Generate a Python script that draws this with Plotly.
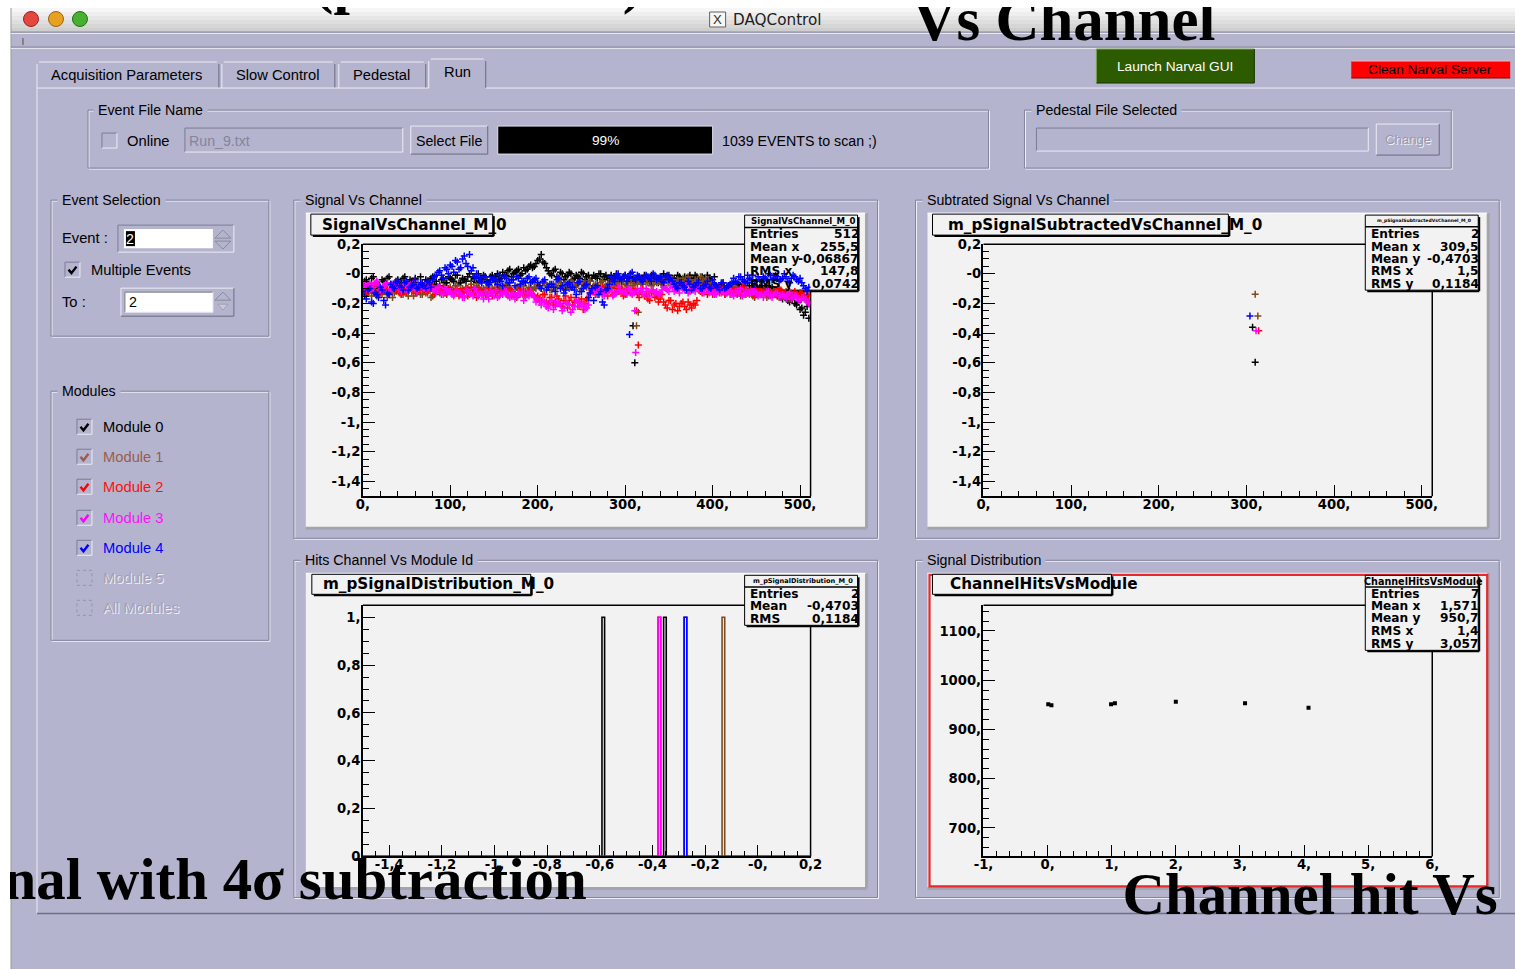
import plotly.graph_objects as go

W, H = 1515, 969
# the photographed page is drawn slightly shrunk and shifted; compensate so marks land where the reference has them
SX, SY, OX, OY = 0.986, 0.984, 9.0, 7.0
FS = 1 / 0.985
LAV = '#b4b4cf'
CANVAS = '#f2f2f2'
GUI = 'Liberation Sans'
BOLD = 'DejaVu Sans'
SERIF = 'Liberation Serif'

# ---------------- data ----------------
channels_even = list(range(0, 512, 4))
channels_odd = list(range(2, 512, 4))
# signal (in 1/100) per module, channels 0,4,8,...
signal_m0 = [-9,-4,-8,-2,-6,-10,-5,-3,-7,-9,-4,-6,-2,-8,-5,-3,-9,-6,-4,-7,-2,-5,-8,-3,-6,
             -3,-5,-1,-6,-4,-2,-5,-3,0,-4,-2,-6,-1,
             -2,-4,1,-1,3,0,2,-1,4,3,6,5,9,13,7,
             2,-1,3,-3,0,-2,1,-4,-1,-3,0,-2,-5,-1,-3,0,-2,-4,-1,-3,-2,-5,-1,
             -3,-4,-5,-2,-4,
             -2,-5,-1,-4,-3,0,-2,-5,-3,-1,-4,-2,-6,-3,-1,-4,-2,-5,-3,-6,
             -8,-10,-6,-11,-9,-7,-12,-8,-10,-6,-11,-9,-13,-8,-10,-12,-9,
             -14,-12,-17,-15,-19,-16,-21,-24,-28,-22]
signal_m1 = [-11,-14,-10,-13,-15,-9,-12,-16,-11,-13,-10,-14,-12,-15,-9,-13,-11,-14,-12,-10,-15,-12,-13,-11,-14,
             -9,-12,-8,-11,-13,-10,-7,-12,-9,-11,-14,-8,-10,-12,-9,-11,-7,-10,-13,-9,-11,-8,-12,-10,-9,
             -7,-10,-6,-9,-11,-8,-5,-9,-7,-10,-6,-8,-12,-7,-9,-5,-8,-10,-6,-9,-7,-4,-8,-6,-10,-7,
             -5,-8,-6,-4,-7,-5,-3,-7,-6,-4,-8,-5,-3,-6,-4,-7,-5,-2,-6,-4,-7,-5,-3,-6,-8,
             -10,-13,-11,-9,-14,-12,-10,-15,-11,-13,-12,-16,-10,-14,-12,-15,-13,-11,-16,-14,-12,-17,-14,-15,-13,-16,-18]
signal_m2 = [-8,-12,-9,-11,-7,-13,-10,-8,-12,-9,-11,-14,-8,-10,-12,-7,-11,-9,-13,-10,-8,-12,-11,-9,-13,
             -11,-14,-10,-13,-12,-15,-9,-13,-11,-14,-12,-10,-15,-13,-11,-12,-14,-10,-13,-16,-11,-12,-14,-13,-15,
             -15,-18,-14,-20,-16,-19,-17,-22,-15,-18,-21,-16,-19,-24,-17,
             -13,-10,-14,-12,-11,-15,-9,-13,-12,-10,-14,-11,-13,-12,-16,-10,-14,-18,-12,-15,-17,
             -19,-23,-18,-21,-25,-20,-22,-19,-23,-21,
             -11,-13,-9,-12,-14,-10,-12,-8,-13,-11,-10,-14,-12,-9,-13,-11,-15,-10,-12,-13,-11,-14,-12,-10,-15,-13,-12,-16,-14,-13,-15,-14]
signal_m3 = [-6,-10,-7,-9,-5,-11,-8,-6,-10,-7,-9,-12,-6,-8,-10,-5,-9,-7,-11,-8,-10,-12,-9,-14,-11,
             -12,-15,-11,-14,-16,-12,-13,-10,-15,-14,-12,-17,-13,-11,-15,-14,-12,-16,-13,-15,-14,-18,-13,-12,-16,
             -17,-21,-19,-23,-18,-22,-20,-25,-19,-21,-24,-18,-22,-20,-23,
             -14,-11,-13,-10,-15,-12,-11,-14,-9,-13,-12,-10,-14,-11,-13,-12,-10,-15,-11,-12,-13,
             -9,-11,-8,-12,-10,-9,-11,-13,-10,-12,
             -10,-12,-9,-13,-11,-14,-10,-12,-13,-11,-15,-12,-10,-14,-13,-11,-12,-15,-13,-14,-12,-16,-13,-15,-14,-17,-13,-16,-15,-18,-16,-19]
signal_m4 = [-12,-17,-10,-20,-14,-9,-18,-13,
             -7,-10,-5,-9,-6,-11,-8,-4,-9,-7,-10,-6,
             -4,-1,2,-3,3,6,1,8,4,12,5,2,-2,
             -3,-6,-2,-7,-4,-5,-1,-8,-3,-6,-4,-2,-7,-5,-3,-6,-4,
             -6,-10,-4,-9,-7,-12,-3,-8,-11,-6,-9,-14,-5,-10,-7,-13,-18,-8,-12,-21,-10,
             -2,-5,0,-4,-1,-3,1,-4,-2,-5,-1,-3,0,-4,-2,-6,-1,-3,
             -7,-10,-6,-9,-5,-11,-8,-6,-10,-7,-9,-4,-8,-11,-6,-9,-7,
             -3,-6,-2,-5,-1,-4,-7,-2,-5,-3,0,-4,-1,-5,-3,-2,-6,-1,-4,-3,-8,-12]
# signal (in 1/100) per module, channels 2,6,10,...
signal_m0_odd = [-5,-8,-3,-7,-10,-4,-6,-2,-8,-5,-9,-3,-7,-4,-6,-10,-2,-8,-5,-3,-7,-9,-4,-6,-2,
                 -4,-1,-6,-3,-5,0,-2,-6,-3,-1,-5,-2,-4,
                 0,-3,-1,2,-2,1,3,0,2,5,4,7,10,8,4,
                 0,2,-2,1,-4,-1,0,-3,-2,1,-4,-1,-3,-2,0,-4,-1,-3,-5,0,-4,-2,-3,
                 -2,-5,-3,-6,-1,
                 -4,-1,-3,-6,-2,-4,-1,-3,-6,-2,-5,-3,-1,-4,-2,-5,-3,-1,-4,-2,
                 -9,-7,-11,-8,-10,-12,-7,-9,-11,-8,-10,-13,-9,-11,-8,-10,-12,
                 -13,-16,-14,-18,-17,-20,-19,-23,-26,-30]
signal_m1_odd = [-13,-10,-15,-12,-11,-14,-10,-13,-16,-12,-11,-14,-13,-10,-15,-12,-14,-11,-13,-16,-12,-10,-14,-13,-11,
                 -11,-8,-12,-10,-9,-13,-11,-8,-12,-10,-9,-13,-11,-8,-10,-12,-9,-11,-14,-10,-8,-12,-9,-11,-10,
                 -9,-6,-8,-11,-7,-9,-6,-10,-8,-5,-9,-7,-10,-6,-8,-11,-7,-9,-5,-8,-10,-6,-7,-9,-5,-8,
                 -6,-4,-7,-5,-3,-6,-8,-4,-5,-7,-3,-6,-4,-8,-5,-3,-6,-4,-7,-5,-2,-6,-4,-7,-9,
                 -12,-10,-14,-11,-13,-9,-12,-14,-10,-13,-15,-11,-12,-14,-16,-12,-11,-15,-13,-14,-17,-13,-15,-16,-14,-17,-19]
signal_m2_odd = [-10,-13,-8,-11,-9,-12,-10,-14,-9,-11,-13,-8,-12,-10,-9,-13,-11,-8,-12,-10,-14,-9,-11,-13,-10,
                 -13,-11,-15,-12,-10,-14,-12,-16,-11,-13,-14,-12,-11,-15,-13,-10,-12,-15,-14,-11,-13,-15,-12,-14,-16,
                 -17,-14,-19,-16,-21,-15,-20,-18,-23,-16,-19,-22,-17,-20,-18,
                 -11,-14,-12,-9,-13,-11,-14,-10,-12,-15,-11,-13,-10,-14,-12,-15,-17,-13,-16,-19,-14,
                 -21,-18,-24,-20,-22,-19,-24,-21,-20,-18,
                 -12,-10,-14,-11,-13,-9,-12,-14,-10,-12,-13,-11,-9,-14,-12,-10,-13,-12,-11,-14,-13,-12,-15,-11,-13,-14,-16,-12,-15,-13,-16,-15]
signal_m3_odd = [-9,-7,-11,-6,-8,-10,-7,-12,-8,-6,-10,-8,-11,-7,-9,-12,-8,-10,-6,-9,-11,-9,-13,-10,-12,
                 -14,-12,-13,-16,-11,-14,-15,-12,-13,-17,-14,-12,-15,-16,-13,-12,-15,-14,-17,-13,-12,-16,-15,-14,-19,
                 -19,-18,-22,-20,-24,-19,-21,-23,-20,-26,-22,-19,-21,-24,-21,
                 -12,-13,-10,-14,-12,-11,-15,-13,-11,-12,-14,-11,-13,-12,-10,-14,-12,-11,-13,-14,-11,
                 -10,-12,-9,-11,-13,-10,-8,-12,-11,-9,
                 -11,-13,-10,-12,-14,-11,-13,-12,-10,-14,-12,-13,-15,-11,-14,-12,-13,-14,-16,-12,-15,-14,-13,-16,-15,-14,-17,-15,-18,-16,-17,-20]
signal_m4_odd = [-15,-11,-19,-13,-16,-11,-21,-14,
                 -9,-6,-8,-11,-5,-9,-7,-10,-6,-8,-5,-9,
                 -2,1,-1,4,0,5,9,3,10,7,13,4,0,
                 -5,-2,-6,-4,-3,-7,-5,-2,-6,-4,-8,-3,-5,-6,-2,-5,-3,
                 -8,-5,-11,-7,-9,-4,-10,-13,-7,-9,-11,-6,-12,-8,-16,-10,-9,-14,-19,-11,-7,
                 -4,-1,-3,-2,-5,0,-3,-1,-4,-3,-2,-5,-1,-3,-5,-2,-4,-5,
                 -9,-6,-8,-11,-7,-9,-6,-10,-8,-5,-10,-7,-9,-6,-10,-8,-6,
                 -5,-2,-4,-6,-3,-1,-5,-4,-2,-4,-1,-3,-2,-4,0,-5,-3,-2,-5,-6,-10,-9]
# hit channels around 310 (1/100)
dip_ch_m0, dip_m0 = [309, 311], [-35, -60]
dip_ch_m1, dip_m1 = [313, 315], [-35, -26]
dip_ch_m2, dip_m2 = [313, 315], [-25, -48]
dip_ch_m3, dip_m3 = [311, 312], [-25, -53]
dip_ch_m4, dip_m4 = [305], [-41]

# subtracted signal
sub_ch_m0, sub_m0 = [307, 310], [-0.361, -0.596]
sub_ch_m1, sub_m1 = [310, 313], [-0.138, -0.285]
sub_ch_m2, sub_m2 = [314], [-0.384]
sub_ch_m3, sub_m3 = [311], [-0.384]
sub_ch_m4, sub_m4 = [304], [-0.285]

# signal distribution (bin centres with one entry each)
hist_m0 = [-0.587, -0.353]
hist_m1 = [-0.275, -0.131]
hist_m2 = [-0.374]
hist_m3 = [-0.374]
hist_m4 = [-0.275]
hist_bin = 0.01

# channel hits vs module
module_ids = [0.01, 0.06, 0.99, 1.05, 2.0, 3.08, 4.07]
channel_hits = [951, 949, 951, 953, 956, 953, 944]

module_names = ['Module 0', 'Module 1', 'Module 2', 'Module 3', 'Module 4']
module_colors = ['#000000', '#7a4a1c', '#ff0000', '#ff00ff', '#0000ff']
module_label_colors = ['#000000', '#9c5c4c', '#ff1010', '#ff10ff', '#0000ff']

# ---------------- helpers ----------------
shapes, annots = [], []


def X(x):
    return ((x - OX) / SX) / W


def Y(y):
    return 1 - ((y - OY) / SY) / H


def rect(x0, y0, x1, y1, fill=None, line=None, lw=1, dash=None, layer='below'):
    ln = dict(color=line if line else 'rgba(0,0,0,0)', width=lw if line else 0)
    if dash:
        ln['dash'] = dash
    shapes.append(dict(type='rect', xref='paper', yref='paper', x0=X(x0), x1=X(x1), y0=Y(y1), y1=Y(y0),
                       fillcolor=fill if fill else 'rgba(0,0,0,0)', line=ln, layer=layer))


def seg(x0, y0, x1, y1, color, lw=1, layer='below'):
    shapes.append(dict(type='line', xref='paper', yref='paper', x0=X(x0), x1=X(x1), y0=Y(y0), y1=Y(y1),
                       line=dict(color=color, width=lw), layer=layer))


def circle(cx, cy, r, fill, line):
    shapes.append(dict(type='circle', xref='paper', yref='paper', x0=X(cx - r), x1=X(cx + r), y0=Y(cy + r),
                       y1=Y(cy - r), fillcolor=fill, line=dict(color=line, width=1), layer='below'))


def path(pts, color, lw=1, fill=None, closed=False):
    d = 'M ' + ' L '.join(f'{X(a):.5f},{Y(b):.5f}' for a, b in pts)
    if closed:
        d += ' Z'
    shapes.append(dict(type='path', xref='paper', yref='paper', path=d, line=dict(color=color, width=lw),
                       fillcolor=fill if fill else 'rgba(0,0,0,0)', layer='below'))


def txt(x, y, s, size=14.5, color='black', family=GUI, xa='left', ya='middle', bold=False, bg=None):
    if xa == 'left':
        x -= 1.5
    a = dict(xref='paper', yref='paper', x=X(x), y=Y(y), text=s, showarrow=False, xanchor=xa, yanchor=ya,
             font=dict(family=family, size=size * FS, color=color, weight='bold' if bold else 'normal'),
             borderpad=0)
    if bg:
        a['bgcolor'] = bg
    annots.append(a)


DARK = '#7c7c92'
LIGHT = '#ececf5'


def sunken(x0, y0, x1, y1, fill=LAV):
    rect(x0, y0, x1, y1, fill=fill)
    seg(x0, y0, x1, y0, DARK)
    seg(x0, y0, x0, y1, DARK)
    seg(x0, y1, x1, y1, LIGHT)
    seg(x1, y0, x1, y1, LIGHT)


def raised(x0, y0, x1, y1, fill=LAV):
    rect(x0, y0, x1, y1, fill=fill)
    seg(x0, y0, x1, y0, LIGHT)
    seg(x0, y0, x0, y1, LIGHT)
    seg(x0, y1, x1, y1, '#6a6a80')
    seg(x1, y0, x1, y1, '#6a6a80')


def group(x0, y0, x1, y1, label, lx):
    rect(x0 + 1, y0 + 1, x1 + 1, y1 + 1, line='#f0f0f8')
    rect(x0, y0, x1, y1, line='#84849a')
    txt(lx - 4, y0, ' ' + label + ' ', size=14, bg=LAV)


def checkbox(x, yc, checked, color='black', disabled=False):
    if disabled:
        rect(x, yc - 8, x + 15, yc + 7, line='#9494a6', dash='dot')
        return
    sunken(x, yc - 8, x + 15, yc + 7)
    if checked:
        path([(x + 3.5, yc - 0.5), (x + 6.5, yc + 3), (x + 11.5, yc - 3.5)], color, lw=2.4)


# ---------------- window chrome ----------------
rect(10, 8, 1530, 980, fill=LAV)
bands = ['#f6f6f6', '#eeeeee', '#e6e6e6', '#dedede', '#d6d6d6', '#cecece']
for i, c in enumerate(bands):
    rect(10, 8 + 4 * i, 1530, 12 + 4 * i, fill=c)
seg(10, 8, 10, 980, '#9a9a9a')
seg(10, 32, 1530, 32, '#8c8c8c')
seg(10, 33.5, 1530, 33.5, '#e8e8f0')
seg(22, 38, 22, 45, '#505050')
seg(10, 47, 1530, 47, '#8a8aa0')
seg(10, 48.5, 1530, 48.5, '#e4e4ee')
circle(30, 19, 7.5, '#e4473f', '#a02020')
circle(55, 19, 7.5, '#e8a020', '#a06010')
circle(79, 19, 7.5, '#48b030', '#207010')
rect(709, 12, 725, 27, fill='#f6f6f6', line='#606060')
txt(717, 19.5, 'X', size=13, color='#303030', xa='center')
txt(733, 19.5, 'DAQControl', size=15, color='#202020', family=BOLD)

# tabs
tabs = [(36, 62, 218, 'Acquisition Parameters', 51), (221, 62, 334, 'Slow Control', 236),
        (338, 62, 425, 'Pedestal', 353), (428, 59, 485, 'Run', 444)]
for x0, y0, x1, lab, tx in tabs:
    seg(x0, 88, x0, y0 + 2, LIGHT)
    seg(x0 + 2, y0, x1 - 2, y0, LIGHT)
    seg(x1, y0 + 2, x1, 88, '#6a6a80')
    txt(tx, (y0 + 88) / 2 + (0 if lab != 'Run' else -2), lab, size=14.5)
seg(36, 88, 428, 88, LIGHT)
seg(485, 88, 1530, 88, LIGHT)
seg(36, 88, 36, 913, LIGHT)
seg(36, 913, 1530, 913, '#6e6e86', lw=1.5)

# buttons top right
rect(1096, 49, 1254, 83, fill='#2d5b00')
seg(1096, 49, 1254, 49, '#7aa050')
seg(1096, 49, 1096, 83, '#7aa050')
seg(1096, 83, 1254, 83, '#183000')
seg(1254, 49, 1254, 83, '#183000')
txt(1175, 66.5, 'Launch Narval GUI', size=13.5, color='white', xa='center')
rect(1351, 61, 1510, 78, fill='#ff0000')
seg(1351, 61, 1510, 61, '#ffb0b0')
seg(1351, 78, 1510, 78, '#900000')
txt(1430, 69.5, 'Clean Narval Server', size=13.5, color='black', xa='center')

# Event file name group
group(87, 110, 988, 168, 'Event File Name', 98)
checkbox(101, 141, False)
txt(127, 140.5, 'Online', size=14.5)
sunken(184, 128, 402, 152)
txt(189, 140.5, 'Run_9.txt', size=14, color='#85859a')
raised(410, 126, 487, 154)
txt(448.5, 140.5, 'Select File', size=14, xa='center')
rect(497, 126, 712, 154, fill='#000000', line='#e0e0ea')
txt(605, 140.5, '99%', size=13.5, color='white', xa='center')
txt(722, 140.5, '1039 EVENTS to scan ;)', size=14)

# Pedestal group
group(1024, 110, 1451, 168, 'Pedestal File Selected', 1036)
sunken(1036, 128, 1368, 151)
raised(1376, 124, 1439, 155)
txt(1408.5, 140.5, 'Change', size=13, color='#f0f0f6', xa='center')
txt(1407.5, 139.5, 'Change', size=13, color='#9a9aac', xa='center')

# Event selection group
group(50, 200, 268, 336, 'Event Selection', 62)
txt(62, 238, 'Event :', size=14.5)
sunken(117, 225, 233, 252)
rect(123, 229, 212, 248, fill='white')
rect(125, 231, 134, 246, fill='black')
txt(129.5, 238.5, '2', size=14, color='white', xa='center')
path([(214, 238), (222, 230), (230, 238)], '#8a8a9a', 1, fill=LAV, closed=True)
path([(214, 241), (222, 249), (230, 241)], '#8a8a9a', 1, fill=LAV, closed=True)
checkbox(64, 270, True)
txt(91, 269.5, 'Multiple Events', size=14.5)
txt(62, 302, 'To :', size=14.5)
raised(120, 288, 233, 316)
sunken(124, 292, 212, 312, fill='white')
txt(129, 302, '2', size=14)
path([(214, 300), (222, 292), (230, 300)], '#8a8a9a', 1, fill=LAV, closed=True)
path([(217, 304), (222, 310), (227, 304)], '#a0a0b0', 1, fill='#c8c8d8', closed=True)

# Modules group
group(50, 391, 268, 640, 'Modules', 62)
rows_y = [427, 457, 487, 518, 548, 578, 608]
for i in range(5):
    checkbox(76, rows_y[i], True, module_colors[i] if i != 1 else module_label_colors[1])
    txt(103, rows_y[i], module_names[i], size=14.5, color=module_label_colors[i])
for j, lab in enumerate(['Module 5', 'All Modules']):
    yy = rows_y[5 + j]
    checkbox(76, yy, False, disabled=True)
    txt(104, yy + 1, lab, size=14.5, color='#f2f2f8')
    txt(103, yy, lab, size=14.5, color='#a2a2b4')

# plot groups + canvases
groups = [(293, 200, 877, 538, 'Signal Vs Channel', 305), (915, 200, 1499, 538, 'Subtrated Signal Vs Channel', 927),
          (293, 560, 877, 897, 'Hits Channel Vs Module Id', 305), (915, 560, 1499, 897, 'Signal Distribution', 927)]
pads = [(305, 213, 865, 527), (927, 213, 1487, 527), (305, 573, 865, 887), (927, 573, 1487, 887)]
frames = [(362, 244, 810, 496), (983, 244, 1432, 496), (362, 605, 810, 856), (983, 605, 1432, 856)]
for (gx0, gy0, gx1, gy1, lab, lx), (px0, py0, px1, py1) in zip(groups, pads):
    group(gx0, gy0, gx1, gy1, lab, lx)
    rect(px0, py0, px1, py1, fill=CANVAS)
    seg(px0, py1 + 1, px1 + 1, py1 + 1, '#a4a4ae', lw=3)
    seg(px1 + 1, py0, px1 + 1, py1 + 1, '#a4a4ae', lw=3)
    seg(px0, py0, px1, py0, '#ffffff')
rect(929, 574.5, 1487, 886, line='#e8282c', lw=2.2)

# top/right frame lines (drawn under stats boxes)
for fx0, fy0, fx1, fy1 in frames:
    seg(fx0, fy0, fx1, fy0, 'black', lw=1.5)
    seg(fx1, fy0, fx1, fy1, 'black', lw=1.5)

# title boxes
titles = [(310, 214, 492, 235, 'SignalVsChannel_M_0', 322), (932, 214, 1228, 235, 'm_pSignalSubtractedVsChannel_M_0', 948),
          (311, 574, 530, 594, 'm_pSignalDistribution_M_0', 323), (932, 574, 1111, 594, 'ChannelHitsVsModule', 950)]
for x0, y0, x1, y1, t, tx in titles:
    rect(x0, y0, x1, y1, fill=CANVAS, line='black', lw=1)
    seg(x0 + 2, y1 + 1, x1 + 1, y1 + 1, 'black', lw=2)
    seg(x1 + 1, y0 + 2, x1 + 1, y1 + 1, 'black', lw=2)
    txt(tx, (y0 + y1) / 2, t, size=15, family=BOLD, bold=True)

# stats boxes
stats = [
    (744, 215, 857, 290, 'SignalVsChannel_M_0', 8.5, 227.5,
     [('Entries', '512'), ('Mean x', '255,5'), ('Mean y', '-0,06867'), ('RMS x', '147,8'), ('RMS y', '0,0742')],
     [234.3, 246.7, 258.5, 271, 284]),
    (1365, 215, 1478, 290, 'm_pSignalSubtractedVsChannel_M_0', 4.5, 226.7,
     [('Entries', '2'), ('Mean x', '309,5'), ('Mean y', '-0,4703'), ('RMS x', '1,5'), ('RMS y', '0,1184')],
     [234.3, 246.7, 258.5, 271, 283.7]),
    (744, 575, 857, 625, 'm_pSignalDistribution_M_0', 6.5, 586.7,
     [('Entries', '2'), ('Mean', '-0,4703'), ('RMS', '0,1184')], [594, 606, 618.3]),
    (1365, 575, 1478, 650, 'ChannelHitsVsModule', 9.5, 586.7,
     [('Entries', '7'), ('Mean x', '1,571'), ('Mean y', '950,7'), ('RMS x', '1,4'), ('RMS y', '3,057')],
     [593.7, 606, 617.7, 630.7, 643.3]),
]
for x0, y0, x1, y1, head, hs, hl, rows, ys in stats:
    rect(x0, y0, x1, y1, fill=CANVAS, line='black', lw=1)
    seg(x0 + 2, y1 + 1, x1 + 1, y1 + 1, 'black', lw=2)
    seg(x1 + 1, y0 + 2, x1 + 1, y1 + 1, 'black', lw=2)
    seg(x0, hl, x1, hl, 'black', lw=1.5)
    txt((x0 + x1) / 2 + 2, (y0 + hl) / 2, head, size=hs, family=BOLD, bold=True, xa='center')
    for (k, v), yy in zip(rows, ys):
        txt(x0 + 6, yy, k, size=12, family=BOLD, bold=True)
        txt(x1 + 2, yy, v, size=12, family=BOLD, bold=True, xa='right')

# ---------------- traces ----------------
fig = go.Figure()
sig = [signal_m0, signal_m1, signal_m2, signal_m3, signal_m4]
sig_odd = [signal_m0_odd, signal_m1_odd, signal_m2_odd, signal_m3_odd, signal_m4_odd]
dch = [dip_ch_m0, dip_ch_m1, dip_ch_m2, dip_ch_m3, dip_ch_m4]
dv = [dip_m0, dip_m1, dip_m2, dip_m3, dip_m4]
for i in range(5):
    xs = channels_even[:len(sig[i])] + channels_odd[:len(sig_odd[i])] + dch[i]
    ys = [v / 100 for v in sig[i]] + [v / 100 for v in sig_odd[i]] + [v / 100 for v in dv[i]]
    fig.add_trace(go.Scatter(x=xs, y=ys, mode='markers', name=module_names[i], xaxis='x', yaxis='y',
                             marker=dict(symbol='cross-thin', size=5, color=module_colors[i],
                                         line=dict(width=1.5, color=module_colors[i]))))

sch = [sub_ch_m0, sub_ch_m1, sub_ch_m2, sub_ch_m3, sub_ch_m4]
sv = [sub_m0, sub_m1, sub_m2, sub_m3, sub_m4]
for i in range(5):
    fig.add_trace(go.Scatter(x=sch[i], y=sv[i], mode='markers', name=module_names[i], xaxis='x2', yaxis='y2',
                             marker=dict(symbol='cross-thin', size=5, color=module_colors[i],
                                         line=dict(width=1.5, color=module_colors[i]))))

hists = [hist_m0, hist_m1, hist_m2, hist_m3, hist_m4]
for i in range(5):
    hx, hy = [-1.5], [0]
    for c in sorted(hists[i]):
        lo, hi = c - hist_bin / 2, c + hist_bin / 2
        hx += [lo, lo, hi, hi]
        hy += [0, 1, 1, 0]
    hx.append(0.2)
    hy.append(0)
    fig.add_trace(go.Scatter(x=hx, y=hy, mode='lines', name=module_names[i], xaxis='x3', yaxis='y3',
                             line=dict(color=module_colors[i], width=1.6)))

fig.add_trace(go.Scatter(x=module_ids, y=channel_hits, mode='markers', name='hits', xaxis='x4', yaxis='y4',
                         marker=dict(symbol='square', size=4, color='black')))

# overlay captions (clipped at the picture edges by a full-size hidden subplot)
captions = [('(pedestal off)', 313, 17, 'top right', 58),
            ('Vs Channel', 912, 24.5, 'middle right', 60),
            ('Signal with 4σ subtraction', 586, 884, 'middle left', 58),
            ('Channel hit Vs Module', 1122, 898.5, 'middle right', 58)]
for s, cx, cy, pos, fsz in captions:
    fig.add_trace(go.Scatter(x=[cx], y=[cy], mode='text', text=[s], textposition=pos, xaxis='x5', yaxis='y5',
                             cliponaxis=True, hoverinfo='skip',
                             textfont=dict(family=SERIF, size=fsz * FS, color='black', weight='bold')))

# ---------------- axes ----------------
layout = {}
tickfont = dict(family=BOLD, size=13 * FS, color='black', weight='bold')


def axes(n, fr, xr, yr, xtv, xtt, ytv, ytt, xminor, yminor):
    sx = '' if n == 1 else str(n)
    fx0, fy0, fx1, fy1 = fr
    common = dict(showgrid=False, zeroline=False, showline=True, linecolor='black', linewidth=1.5,
                  ticks='inside', ticklen=12, tickwidth=1.2, tickcolor='black', tickfont=tickfont,
                  tickmode='array', fixedrange=True)
    layout['xaxis' + sx] = dict(domain=[X(fx0), X(fx1)], range=xr, anchor='y' + sx, tickvals=xtv, ticktext=xtt,
                                ticklabelstandoff=-5,
                                minor=dict(tickmode='linear', tick0=0, dtick=xminor, ticks='inside', ticklen=6,
                                           tickcolor='black', tickwidth=1), **common)
    layout['yaxis' + sx] = dict(domain=[Y(fy1), Y(fy0)], range=yr, anchor='x' + sx, tickvals=ytv, ticktext=ytt,
                                ticklabelstandoff=-2,
                                minor=dict(tickmode='linear', tick0=0, dtick=yminor, ticks='inside', ticklen=6,
                                           tickcolor='black', tickwidth=1), **common)


ch_tv = [0, 100, 200, 300, 400, 500]
ch_tt = ['0,', '100,', '200,', '300,', '400,', '500,']
sig_tv = [0.2, 0, -0.2, -0.4, -0.6, -0.8, -1.0, -1.2, -1.4]
sig_tt = ['0,2', '-0', '-0,2', '-0,4', '-0,6', '-0,8', '-1,', '-1,2', '-1,4']
dist_tv = [-1.4, -1.2, -1.0, -0.8, -0.6, -0.4, -0.2, 0, 0.2]
dist_tt = ['-1,4', '-1,2', '-1,', '-0,8', '-0,6', '-0,4', '-0,2', '-0,', '0,2']
cnt_tv = [0, 0.2, 0.4, 0.6, 0.8, 1.0]
cnt_tt = ['0', '0,2', '0,4', '0,6', '0,8', '1,']
mod_tv = [-1, 0, 1, 2, 3, 4, 5, 6]
mod_tt = ['-1,', '0,', '1,', '2,', '3,', '4,', '5,', '6,']
hit_tv = [700, 800, 900, 1000, 1100]
hit_tt = ['700,', '800,', '900,', '1000,', '1100,']

axes(1, frames[0], [0, 512], [-1.5, 0.2], ch_tv, ch_tt, sig_tv, sig_tt, 20, 0.05)
axes(2, frames[1], [0, 512], [-1.5, 0.2], ch_tv, ch_tt, sig_tv, sig_tt, 20, 0.05)
axes(3, frames[2], [-1.5, 0.2], [0, 1.05], dist_tv, dist_tt, cnt_tv, cnt_tt, 0.05, 0.05)
axes(4, frames[3], [-1, 6], [642, 1152], mod_tv, mod_tt, hit_tv, hit_tt, 0.2, 20)
layout['xaxis5'] = dict(domain=[0, 1], range=[OX, OX + SX * W], anchor='y5', visible=False, fixedrange=True)
layout['yaxis5'] = dict(domain=[0, 1], range=[OY + SY * H, OY], anchor='x5', visible=False, fixedrange=True)

fig.update_layout(width=W, height=H, margin=dict(l=0, r=0, t=0, b=0), paper_bgcolor='white',
                  plot_bgcolor='rgba(0,0,0,0)', showlegend=False, shapes=shapes, annotations=annots, **layout)
fig.write_html('out.html', config={'displayModeBar': False},
               post_script="document.body.style.margin='0';document.body.style.padding='0';"
                           "document.body.style.overflow='hidden';")
